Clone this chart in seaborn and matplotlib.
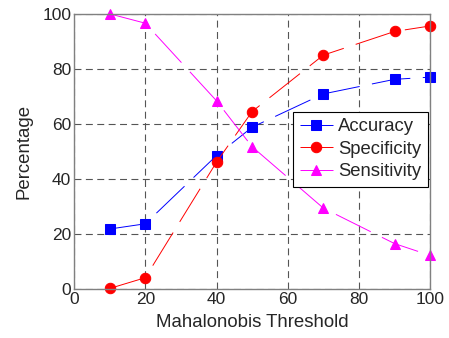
import numpy as np
import pandas as pd
import seaborn as sns
import matplotlib
matplotlib.use("Agg")
import matplotlib.pyplot as plt

# values
threshold = [10, 20, 40, 50, 70, 90, 100]
accuracy = [21.8, 23.7, 48.5, 58.8, 70.9, 76.2, 77.0]
specificity = [0.2, 4.1, 46.1, 64.5, 85.0, 93.6, 95.6]
sensitivity = [100.0, 96.6, 68.4, 51.7, 29.4, 16.5, 12.2]

sns.set_style("white")
plt.rcParams['font.family'] = ['Liberation Sans', 'DejaVu Sans']
plt.rcParams['lines.scale_dashes'] = False

fig = plt.figure(figsize=(4.49, 3.38), dpi=100)
ax = fig.add_axes([0.165, 0.145, 0.793, 0.814])

series = [
    ("Accuracy", accuracy, "#0000ff", "s", 6.5),
    ("Specificity", specificity, "#ff0000", "o", 7.5),
    ("Sensitivity", sensitivity, "#ff00ff", "^", 7.5),
]
for name, vals, col, mk, ms in series:
    df = pd.DataFrame({"x": threshold, "y": vals})
    sns.lineplot(data=df, x="x", y="y", ax=ax, color=col, marker=mk,
                 markersize=ms, markeredgecolor=col, linewidth=0.7,
                 linestyle=(0, (28, 9)), label=name, alpha=1, clip_on=False)

ax.set_xlim(0, 100)
ax.set_ylim(0, 100)
ax.set_xticks(np.arange(0, 101, 20))
ax.set_yticks(np.arange(0, 101, 20))
ax.grid(True, color="#555555", linestyle=(0, (5, 3.2)), linewidth=0.8)
ax.set_axisbelow(True)
ax.tick_params(labelsize=12.5, direction="in", length=3, color="#808080", pad=2)
for s in ax.spines.values():
    s.set_color("#808080")
    s.set_linewidth(1.0)

ax.set_xlabel("Mahalonobis Threshold", fontsize=13.4, labelpad=5)
ax.set_ylabel("Percentage", fontsize=13.4, labelpad=7)

leg = ax.legend(loc="upper left", bbox_to_anchor=(0.615, 0.644),
                borderaxespad=0, fontsize=13.3, frameon=True, fancybox=False,
                framealpha=1, handlelength=1.8, handletextpad=0.3,
                labelspacing=0.3, borderpad=0.35)
leg.get_frame().set_edgecolor("black")
leg.get_frame().set_linewidth(0.8)

fig.savefig("out.png", dpi=100)
